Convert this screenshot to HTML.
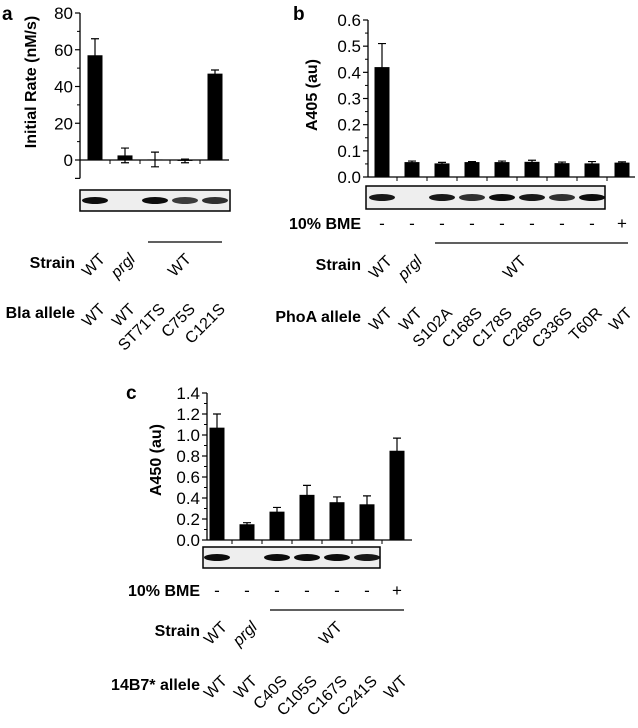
<!DOCTYPE html>
<html><head><meta charset="utf-8"><style>
body{margin:0;background:#fff}
svg{display:block;font-family:"Liberation Sans",Arial,sans-serif}
.t{font-size:17px}
.r{font-size:16px}
.b{font-size:16px;font-weight:bold}
.p{font-size:19px;font-weight:bold}
</style></head><body>
<svg id="s" width="638" height="728" viewBox="0 0 638 728"></svg>
<script>
// Panel a data
const aCats=["WT","WT","ST71TS","C75S","C121S"];
const aVals=[57,2.5,0.3,-0.5,47];
const aErr=[9,4,4,1,2];
const aTicks=[0,20,40,60,80];
// Panel b data
const bCats=["WT","WT","S102A","C168S","C178S","C268S","C336S","T60R","WT"];
const bVals=[0.42,0.057,0.052,0.057,0.057,0.058,0.053,0.052,0.055];
const bErr=[0.09,0.004,0.004,0.002,0.004,0.006,0.004,0.007,0.003];
const bTicks=[0.0,0.1,0.2,0.3,0.4,0.5,0.6];
// Panel c data
const cCats=["WT","WT","C40S","C105S","C167S","C241S","WT"];
const cVals=[1.07,0.15,0.27,0.43,0.36,0.34,0.85];
const cErr=[0.13,0.015,0.04,0.09,0.05,0.08,0.12];
const cTicks=[0.0,0.2,0.4,0.6,0.8,1.0,1.2,1.4];

const S=document.getElementById('s');
const NS='http://www.w3.org/2000/svg';
function el(tag,attrs,parent,txt){const e=document.createElementNS(NS,tag);for(const k in attrs)e.setAttribute(k,attrs[k]);if(txt!==undefined)e.textContent=txt;(parent||S).appendChild(e);return e;}

function panel(cfg){
  const g=el('g',{},S);
  
  
  const y=v=>cfg.y0-(v-0)*(cfg.y0-cfg.yTop)/(cfg.ymax);
  const x=i=>cfg.x0+i*cfg.step;
  const ya=el('line',{x1:cfg.ax,x2:cfg.ax,y1:y(cfg.ymax),y2:y(cfg.ymin),stroke:'#000','stroke-width':1.3},g);
  
  
  const xa=el('line',{x1:cfg.ax,x2:cfg.axEnd,y1:y(0),y2:y(0),stroke:'#000','stroke-width':1.3},g);
  
  
  cfg.ticks.forEach((t,i)=>{
    el('line',{x1:cfg.ax-5,x2:cfg.ax,y1:y(t),y2:y(t),stroke:'#000','stroke-width':1.2},g);
    const tl=el('text',{x:cfg.ax-7,y:y(t)+6,'text-anchor':'end',class:'t'},g,cfg.fmt(t));
    
    
    if(i<cfg.ticks.length-1){const m=(t+cfg.ticks[i+1])/2;el('line',{x1:cfg.ax-3,x2:cfg.ax,y1:y(m),y2:y(m),stroke:'#000'},g);}
  });
  if(cfg.ymin<0){el('line',{x1:cfg.ax-5,x2:cfg.ax,y1:y(cfg.ymin),y2:y(cfg.ymin),stroke:'#000','stroke-width':1.2},g);}
  for(let i=0;i<cfg.cats.length;i++){const xt=x(i)+cfg.step/2;if(xt<cfg.axEnd)el('line',{x1:xt,x2:xt,y1:y(0),y2:y(0)+4,stroke:'#000'},g);}
  const yt=el('text',{transform:`translate(${cfg.ylx},${cfg.yly}) rotate(-90)`,'text-anchor':'middle',class:'b'},g,cfg.ylabel);
  
  
  const pl=el('text',{x:cfg.px,y:cfg.py,class:'p'},g,cfg.letter);
  
  
  cfg.vals.forEach((v,i)=>{
    const cx=x(i),w=15;
    const r=el('rect',{x:cx-w/2,y:Math.min(y(v),y(0)),width:w,height:Math.abs(y(v)-y(0)),fill:'#000'},g);
    
    
    const e=cfg.err[i],t=y(v+e),b=y(v-e);
    const eb=el('path',{d:`M${cx},${t}V${b}M${cx-4},${t}H${cx+4}M${cx-4},${b}H${cx+4}`,stroke:'#000','stroke-width':1.2,fill:'none'},g);
    
    
  });
  const bl=el('rect',{x:cfg.blot[0],y:cfg.blot[1],width:cfg.blot[2],height:cfg.blot[3],fill:'#eeeeee',stroke:'#000','stroke-width':1.5},g);
  
  
  cfg.bands.forEach((o,i)=>{if(o>0){const bd=el('ellipse',{cx:x(i),cy:cfg.blot[1]+cfg.blot[3]/2,rx:13,ry:3.5,fill:'#000',opacity:o},g);
    
    }});
  if(cfg.bmeY){
    const t=el('text',{x:cfg.labX,y:cfg.bmeY,'text-anchor':'end',class:'b'},g,'10% BME');
    
    
    cfg.cats.forEach((c,i)=>{el('text',{x:x(i),y:cfg.bmeY,'text-anchor':'middle',class:'t'},g,i==cfg.cats.length-1?'+':'-');});
  }
  el('line',{x1:cfg.line[0],x2:cfg.line[1],y1:cfg.line[2],y2:cfg.line[2],stroke:'#000','stroke-width':1.3},g);
  const st=el('text',{x:cfg.labX,y:cfg.strainY,'text-anchor':'end',class:'b'},g,'Strain');
  
  
  const rot=(tx,ty,s,ital)=>{const t=el('text',{transform:`translate(${tx},${ty}) rotate(-45)`,'text-anchor':'end',class:'r','font-style':ital?'italic':'normal'},g,s);return t;};
  rot(x(0)+11,cfg.strainY-8,'WT');rot(x(1)+11,cfg.strainY-8,'prgl',true);rot(cfg.groupX,cfg.strainY-8,'WT');
  const al=el('text',{x:cfg.labX,y:cfg.alY,'text-anchor':'end',class:'b'},g,cfg.allele);
  
  
  cfg.cats.forEach((c,i)=>{const t=rot(x(i)+11,cfg.alY-8,c);});
}
panel({name:'panel-a',letter:'a',px:2,py:20,cats:aCats,vals:aVals,err:aErr,ticks:aTicks,fmt:t=>t,ymax:80,ymin:-10,yTop:13,y0:160,ax:80,axEnd:229,x0:95,step:30,
  ylabel:'Initial Rate (nM/s)',ylx:36,yly:82,blot:[80,190,150,21],bands:[0.95,0,0.95,0.75,0.8],
  line:[148,222,242],labX:75,strainY:268,groupX:192,alY:318,allele:'Bla allele'});
panel({name:'panel-b',letter:'b',px:293,py:20,cats:bCats,vals:bVals,err:bErr,ticks:bTicks,fmt:t=>t.toFixed(1),ymax:0.6,ymin:0,yTop:20,y0:177,ax:368,axEnd:635,x0:382,step:30,
  ylabel:'A405 (au)',ylx:317,yly:95,blot:[366,186,239,23],bands:[0.9,0,0.9,0.8,0.95,0.9,0.8,0.95,0],bmeY:229,
  line:[435,628,243],labX:361,strainY:270,groupX:527,alY:322,allele:'PhoA allele'});
panel({name:'panel-c',letter:'c',px:126,py:399,cats:cCats,vals:cVals,err:cErr,ticks:cTicks,fmt:t=>t.toFixed(1),ymax:1.4,ymin:0,yTop:393,y0:540,ax:207,axEnd:412,x0:217,step:30,
  ylabel:'A450 (au)',ylx:161,yly:460,blot:[203,547,177,21],bands:[0.95,0,0.95,0.95,0.95,0.9,0],bmeY:596,
  line:[270,404,610],labX:200,strainY:636,groupX:343,alY:690,allele:'14B7* allele'});
</script>
</body></html>
